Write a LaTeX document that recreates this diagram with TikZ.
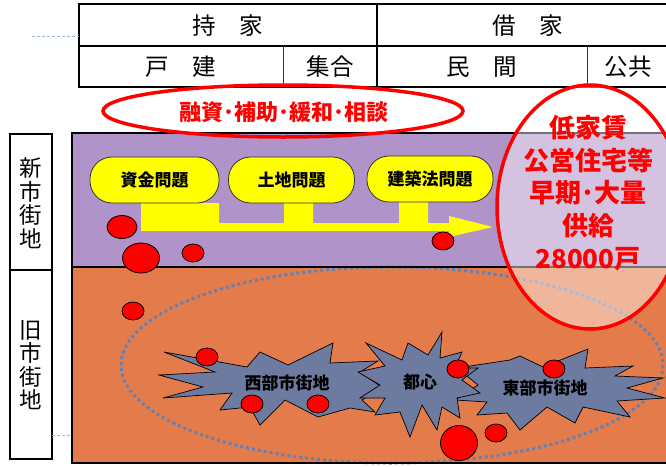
\documentclass[tikz,border=0pt]{standalone}
\usepackage{fontspec}
\newfontfamily\jp{Noto Sans CJK JP}
\usetikzlibrary{shapes.geometric}
\definecolor{purp}{HTML}{B093C9}
\definecolor{oran}{HTML}{E37B4B}
\definecolor{starc}{HTML}{6E7BA0}
\definecolor{dotc}{HTML}{6680B0}
\definecolor{dashc}{HTML}{9DB8D8}
\definecolor{yel}{HTML}{FFFF00}
\definecolor{rd}{HTML}{FF0000}
\begin{document}
\begin{tikzpicture}[x=1pt,y=-1pt,font=\jp,
  blobS/.style={ellipse,draw=black,line width=0.8pt,fill=rd,inner sep=0,minimum width=22pt,minimum height=18pt},
  blobM/.style={blobS,minimum width=30pt,minimum height=23pt},
  blobL/.style={blobS,minimum width=37pt,minimum height=30pt},
  blobXL/.style={blobS,minimum width=37pt,minimum height=35pt},
  ybox/.style={draw=black!80,line width=0.8pt,fill=yel,rounded corners=22pt,inner sep=0,minimum height=46pt,font=\jp\bfseries\fontsize{17}{20}\selectfont},
  startxt/.style={font=\jp\bfseries\fontsize{17}{20}\selectfont,inner sep=0},
  tabtxt/.style={font=\jp\fontsize{23.5}{26}\selectfont,inner sep=0},
  sidetxt/.style={font=\jp\fontsize{22.5}{23.5}\selectfont,inner sep=0,align=center},
  redtxt/.style={text=rd,inner sep=0,font=\jp\bfseries\fontsize{26}{32.7}\selectfont,align=center},
  starshape/.style={fill=starc,draw=black,line width=0.7pt,line join=miter},
  frameline/.style={draw=black,line width=2pt},
  tabline/.style={draw=black,line width=1.8pt},
  tabthin/.style={draw=black!80,line width=0.9pt},
  redring/.style={draw=rd,line width=3.5pt},
  lightdash/.style={draw=dashc,line width=0.8pt,dash pattern=on 3pt off 2pt}]
\useasboundingbox (0,0) rectangle (666,466);
\clip (0,0) rectangle (666,466);
% main frame
\fill[purp] (72,133) rectangle (690,267);
\fill[oran] (72,267) rectangle (690,463);
% dotted ellipse
\draw[dotc,line width=3pt,dash pattern=on 3pt off 3pt] (392,365) ellipse [x radius=271, y radius=98];
\draw[frameline] (690,133) -- (72,133) -- (72,463) -- (690,463);
\draw[frameline] (72,267) -- (690,267);
% yellow arrow
\fill[yel] (141,203) -- (219,203) -- (219,223) -- (284,223) -- (284,202) -- (313,202) -- (313,223)
  -- (399,223) -- (399,202) -- (428,202) -- (428,223) -- (449,223) -- (449,216) -- (493,227)
  -- (449,237) -- (449,231) -- (141,231) -- cycle;
\node[ybox,minimum width=129pt] (shikin) at (154.5,180) {資金問題};
\node[ybox,minimum width=126pt] (tochi) at (291.5,180) {土地問題};
\node[ybox,minimum width=126pt] (kenchiku) at (430,179) {建築法問題};
% purple-area blobs
\node[blobM] (p1) at (122,227) {};
\node[blobL] (p2) at (141,258) {};
\node[blobS] (p3) at (193,253) {};
\node[blobS] (p4) at (443,241) {};
% stars
\draw[starshape] (164,352) -- (247,367) -- (260,352) -- (288,365) -- (333,343) -- (330,363) -- (378,361)
  -- (360,372) -- (383,388) -- (362,400) -- (375,412) -- (350,408) -- (318,417) -- (285,400) -- (260,425)
  -- (250,407) -- (220,410) -- (232,393) -- (163,398) -- (203,387) -- (159,375) -- (215,372) -- cycle;
\draw[starshape] (457,368) -- (510,360) -- (520,356) -- (543,367) -- (588,349) -- (585,368) -- (633,366)
  -- (615,376) -- (663,378) -- (627,388) -- (665,398) -- (617,401) -- (630,417) -- (583,407) -- (575,423)
  -- (547,407) -- (520,430) -- (507,413) -- (477,415) -- (487,402) -- (455,400) -- (478,385) -- cycle;
\draw[starshape] (442,332) -- (440,358) -- (462,352) -- (455,368) -- (478,368) -- (462,380) -- (480,393)
  -- (457,398) -- (460,418) -- (442,407) -- (437,430) -- (422,405) -- (410,437) -- (400,412) -- (375,415)
  -- (385,398) -- (360,398) -- (380,385) -- (358,372) -- (385,366) -- (366,343) -- (402,360) -- (408,343)
  -- (428,355) -- cycle;
\node[startxt] (seibu) at (287,383) {西部市街地};
\node[startxt] (toshin) at (420,382) {都心};
\node[startxt] (tobu) at (545,388) {東部市街地};
% orange-area blobs
\node[blobS] (o1) at (133,311) {};
\node[blobS] (o2) at (207,357) {};
\node[blobS] (o3) at (252,404) {};
\node[blobS] (o4) at (318,404) {};
\node[blobS] (o5) at (458,369) {};
\node[blobS] (o6) at (554,369) {};
\node[blobXL] (o7) at (459,443) {};
\node[blobS] (o8) at (496,433) {};
% table
\draw[tabline] (700,4) -- (79,4) -- (79,87) -- (700,87);
\draw[tabline] (79,46) -- (700,46);
\draw[tabline] (377,4) -- (377,87);
\draw[tabthin] (283,46) -- (283,87);
\draw[tabthin] (587,46) -- (587,87);
\node[tabtxt] (mochiie) at (228,26) {持　家};
\node[tabtxt] (shakuya) at (528,26) {借　家};
\node[tabtxt] (kodate) at (181,67) {戸　建};
\node[tabtxt] (shugo) at (330,67) {集合};
\node[tabtxt] (minkan) at (482,67) {民　間};
\node[tabtxt] (kokyo) at (628,67) {公共};
% support ellipse
\draw[redring] (283,111) ellipse [x radius=180, y radius=26];
\node[text=rd,inner sep=0,font=\jp\bfseries\fontsize{22}{24}\selectfont] (yushi) at (284,112) {融資･補助･緩和･相談};
% big circle
\fill[white,opacity=0.45] (590,207) ellipse [x radius=93, y radius=122];
\draw[redring] (590,207) ellipse [x radius=93, y radius=122];
\node[redtxt] (kyokyu) at (588,193) {低家賃\\公営住宅等\\早期･大量\\供給\\28000戸};
% side labels
\draw[line width=1.5pt] (10,134) rectangle (52,270);
\draw[line width=1.5pt] (10,270) rectangle (52,459);
\node[sidetxt] (shin) at (31,203) {新\\市\\街\\地};
\node[sidetxt] (kyu) at (31,365) {旧\\市\\街\\地};
% light dashed guides
\coordinate (g1) at (32,36);
\coordinate (g2) at (79,36);
\coordinate (g3) at (52,435);
\coordinate (g4) at (72,435);
\draw[lightdash] (g1) -- (g2);
\draw[lightdash] (g3) -- (g4);
\end{tikzpicture}
\end{document}
